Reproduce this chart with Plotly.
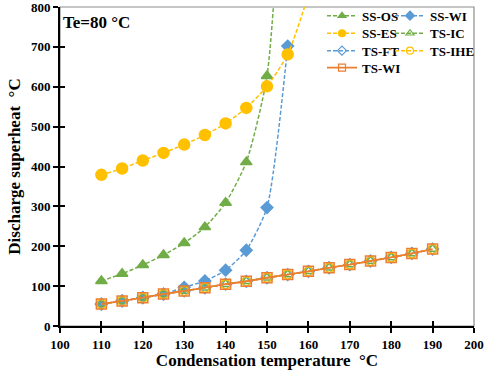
import plotly.graph_objects as go

# ---- data ----
cond_temp = [110, 115, 120, 125, 130, 135, 140, 145, 150, 155, 160, 165, 170, 175, 180, 185, 190]

ss_os_x = [110, 115, 120, 125, 130, 135, 140, 145, 150, 155]
ss_os_y = [113, 131, 153, 178, 208, 248, 309, 411, 627, 1400]

ss_wi_x = [110, 115, 120, 125, 130, 135, 140, 145, 150, 155]
ss_wi_y = [55, 63, 71, 80, 97, 113, 140, 190, 297, 702]

ss_es_x = [110, 115, 120, 125, 130, 135, 140, 145, 150, 155, 160]
ss_es_y = [379, 395, 415, 434, 455, 479, 508, 547, 601, 681, 830]

ts_y = [55, 63, 71, 80, 88, 96, 105, 112, 121, 129, 137, 146, 154, 163, 172, 182, 193]

GREEN = "#70AD47"
BLUE = "#5B9BD5"
YELLOW = "#FFC000"
ORANGE = "#ED7D31"
FONT = "Liberation Serif, Times New Roman, serif"
DASH = "4px,2px"

L, R, T, B = 60, 10, 7, 44
W, H = 484, 370
PW, PH = W - L - R, H - T - B

fig = go.Figure()

legend_cfg = {}
legend_entries = []

def px_to_paper(px, py):
    return (px - L) / PW, 1 - (py - T) / PH

def add(name, x, y, color, symbol, size, dash, legend, text_px, row_py, width=1.5):
    fig.add_trace(go.Scatter(
        x=x, y=y, name=name, mode="lines+markers",
        line=dict(color=color, width=width, dash=dash, shape="spline", smoothing=0.6),
        marker=dict(symbol=symbol, size=size, color=color,
                    line=dict(color=color, width=1.5)),
        showlegend=False,
    ))
    legend_entries.append((name, color, symbol, dash, legend, width))
    lx, ly = px_to_paper(text_px - 40, row_py)
    legend_cfg[legend] = dict(x=lx, y=ly, xanchor="left", yanchor="middle",
                              bgcolor="rgba(0,0,0,0)", itemwidth=30,
                              font=dict(family=FONT, size=13, color="black", weight="bold"))

C1, C2 = 362, 430
add("SS-OS", ss_os_x, ss_os_y, GREEN, "triangle-up", 10, DASH, "legend", C1, 15.7)
add("SS-WI", ss_wi_x, ss_wi_y, BLUE, "diamond", 9, DASH, "legend3", C2, 15.7)
add("TS-IC", cond_temp, ts_y, GREEN, "triangle-up-open", 9, DASH, "legend4", C2, 33.3)
add("TS-FT", cond_temp, ts_y, BLUE, "diamond-open", 9, DASH, "legend5", C1, 50.7)
add("TS-IHE", cond_temp, ts_y, YELLOW, "circle-open", 9, DASH, "legend6", C2, 50.7)
add("TS-WI", cond_temp, ts_y, ORANGE, "square-open", 10, "solid", "legend7", C1, 67.7, width=1.8)
add("SS-ES", ss_es_x, ss_es_y, YELLOW, "circle", 11, DASH, "legend2", C1, 33.3)

# legend-only entries (smaller symbols, as in the reference legend)
for name, color, symbol, dash, legend, width in legend_entries:
    fig.add_trace(go.Scatter(
        x=[None], y=[None], name=name, mode="lines+markers",
        line=dict(color=color, width=width, dash=dash),
        marker=dict(symbol=symbol, size=7, color=color, line=dict(color=color, width=1.2)),
        legend=legend, showlegend=True, hoverinfo="skip",
    ))

# gray frame (top/right)
fig.add_shape(type="rect", xref="x domain", yref="y domain", x0=0, x1=1, y0=0, y1=1,
              line=dict(color="#8c8c8c", width=1.2), layer="below")

fig.add_annotation(text="Te=80 °C", xref="paper", yref="paper", x=0.003, y=0.988,
                   xanchor="left", yanchor="top", showarrow=False,
                   font=dict(family=FONT, size=17, color="black", weight="bold"))

tick_font = dict(family=FONT, size=13, color="black", weight="bold")
title_font = dict(family=FONT, size=17, color="black", weight="bold")

fig.update_layout(
    width=W, height=H,
    margin=dict(l=L, r=R, t=T, b=B, autoexpand=False),
    paper_bgcolor="white", plot_bgcolor="white",
    font=dict(family=FONT, color="black"),
    xaxis=dict(range=[100, 200], dtick=10, tick0=100, showgrid=False, zeroline=False,
               showline=True, linecolor="black", linewidth=2,
               ticks="outside", ticklen=5, tickwidth=1.5, tickcolor="black",
               tickfont=tick_font, automargin=False, ticklabeloverflow="allow",
               title=dict(text="Condensation temperature  °C", font=title_font, standoff=2)),
    yaxis=dict(range=[0, 800], dtick=100, showgrid=False, zeroline=False,
               showline=True, linecolor="black", linewidth=2,
               ticks="outside", ticklen=5, tickwidth=1.5, tickcolor="black",
               tickfont=tick_font, automargin=False, ticklabeloverflow="allow",
               title=dict(text="Discharge superheat  °C", font=title_font, standoff=6)),
    xaxis2=dict(overlaying="x", matches="x", range=[100, 200], dtick=10, tick0=100,
                showgrid=False, zeroline=False, showline=False, showticklabels=False,
                ticks="inside", ticklen=5, tickwidth=1.5, tickcolor="black"),
    yaxis2=dict(overlaying="y", matches="y", range=[0, 800], dtick=100,
                showgrid=False, zeroline=False, showline=False, showticklabels=False,
                ticks="inside", ticklen=5, tickwidth=1.5, tickcolor="black"),
    **legend_cfg,
)

# invisible trace to activate the overlay axes for crossing ticks
fig.add_trace(go.Scatter(x=[None], y=[None], xaxis="x2", yaxis="y2", showlegend=False,
                         hoverinfo="skip"))

fig.write_html("out.html", config={"displayModeBar": False},
               post_script="document.body.style.margin='0';document.body.style.padding='0';")
